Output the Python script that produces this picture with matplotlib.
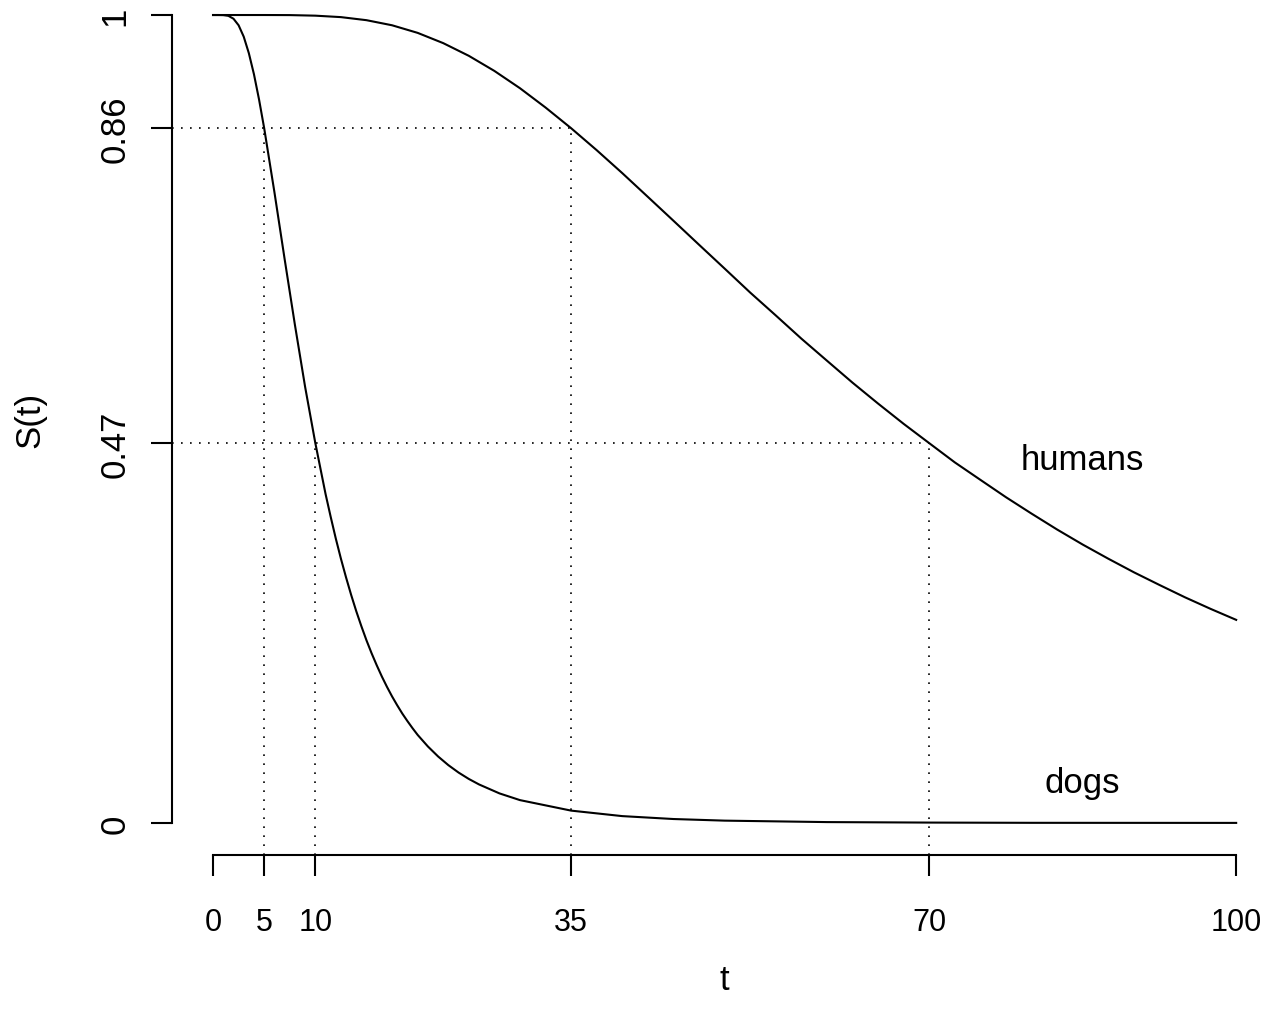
import matplotlib
matplotlib.use("Agg")
import matplotlib.pyplot as plt

plt.rcParams["font.family"] = ["Liberation Sans", "DejaVu Sans"]

# survival curves
HUMAN_T = [0, 2.5, 5, 7.5, 10, 12.5, 15, 17.5, 20, 22.5, 25, 27.5, 30, 32.5,
           35, 37.5, 40, 42.5, 45, 47.5, 50, 52.5, 55, 57.5, 60, 62.5, 65,
           67.5, 70, 72.5, 75, 77.5, 80, 82.5, 85, 87.5, 90, 92.5, 95, 97.5, 100]
HUMAN_S = [1.0, 1.0, 1.0, 0.9999, 0.9992, 0.9974, 0.9936, 0.9873, 0.9779,
           0.9652, 0.9495, 0.9308, 0.9094, 0.8855, 0.8599, 0.8327, 0.8043,
           0.7749, 0.7454, 0.7157, 0.6862, 0.6565, 0.6282, 0.5995, 0.5722,
           0.5450, 0.5191, 0.4940, 0.4701, 0.4463, 0.4247, 0.4032, 0.3829,
           0.3632, 0.3446, 0.3271, 0.3103, 0.2946, 0.2793, 0.2650, 0.2514]

DOG_T = [0, 0.5, 1, 1.5, 2, 2.5, 3, 3.5, 4, 4.5, 5, 6, 7, 8, 9, 10, 11, 11.5,
         12, 12.5, 13, 13.5, 14, 14.5, 15, 15.5, 16, 16.5, 17, 17.5, 18, 18.5,
         19, 19.5, 20, 21, 22, 23, 24, 25, 26, 28, 30, 35, 40, 45, 50,
         60, 70, 80, 100]
DOG_S = [1.0, 1.0, 0.9999, 0.9990, 0.9954, 0.9873, 0.9732, 0.9528, 0.9267,
         0.8953, 0.8599, 0.7808, 0.6978, 0.6168, 0.5398, 0.4701, 0.4071,
         0.3789, 0.3520, 0.3271, 0.3040, 0.2823, 0.2621, 0.2435, 0.2260,
         0.2100, 0.1952, 0.1813, 0.1685, 0.1566, 0.1457, 0.1354, 0.1261,
         0.1173, 0.1090, 0.0947, 0.0823, 0.0716, 0.0624, 0.0545, 0.0477,
         0.0366, 0.0283, 0.0153, 0.0085, 0.0049, 0.0029, 0.0011, 0.0005,
         0.0002, 0.0001]

# marked ages and survival levels
LEVELS = [0.86, 0.47]
DOG_AGES = [5, 10]
HUMAN_AGES = [35, 70]

X_TICKS = [0, 5, 10, 35, 70, 100]
Y_TICKS = [0, 0.47, 0.86, 1]
Y_TICK_LABELS = ["0", "0.47", "0.86", "1"]

LABELS = ["humans", "dogs"]
LABEL_POS = [(85, 0.45), (85, 0.05)]

W, H = 1273, 1020
fig = plt.figure(figsize=(W / 100, H / 100), dpi=100)
fig.patch.set_facecolor("white")

x0, x1 = -4, 104
y0, y1 = -0.04, 1.04
left_px, right_px = 172.1, 1277.1
bottom_px, top_px = 856.3, -16.3
ax = fig.add_axes([left_px / W, (H - bottom_px) / H,
                   (right_px - left_px) / W, (bottom_px - top_px) / H])
ax.set_xlim(x0, x1)
ax.set_ylim(y0, y1)
ax.patch.set_alpha(0)

lw = 1.5
ax.plot(HUMAN_T, HUMAN_S, color="black", lw=lw, clip_on=False)
ax.plot(DOG_T, DOG_S, color="black", lw=lw, clip_on=False)

dot = dict(color="black", lw=1.2, linestyle=(0, (1, 4.4)))
for level, d_age, h_age in zip(LEVELS, DOG_AGES, HUMAN_AGES):
    ax.plot([x0, h_age], [level, level], **dot)
    ax.plot([d_age, d_age], [y0, level], **dot)
    ax.plot([h_age, h_age], [y0, level], **dot)

for text, (tx, ty) in zip(LABELS, LABEL_POS):
    ax.text(tx, ty, text, fontsize=25, ha="center", va="center")

for side in ["top", "right"]:
    ax.spines[side].set_visible(False)
ax.spines["left"].set_bounds(0, 1)
ax.spines["bottom"].set_bounds(0, 100)
ax.spines["left"].set_linewidth(lw)
ax.spines["bottom"].set_linewidth(lw)

ax.set_xticks(X_TICKS)
ax.set_xticklabels([str(t) for t in X_TICKS])
ax.set_yticks(Y_TICKS)
ax.set_yticklabels(Y_TICK_LABELS)
ax.tick_params(axis="x", length=15, width=lw, pad=22, labelsize=22)
ax.tick_params(axis="y", length=15, width=lw, pad=14, labelsize=25)
for lab in ax.get_yticklabels():
    lab.set_rotation(90)
    lab.set_va("center")

ax.set_xlabel("t", fontsize=25, va="center")
ax.xaxis.set_label_coords(0.5, -0.1418)
ax.set_ylabel("S(t)", fontsize=25, va="center")
ax.yaxis.set_label_coords(-0.1286, 0.5)

fig.savefig("out.png", dpi=100)
